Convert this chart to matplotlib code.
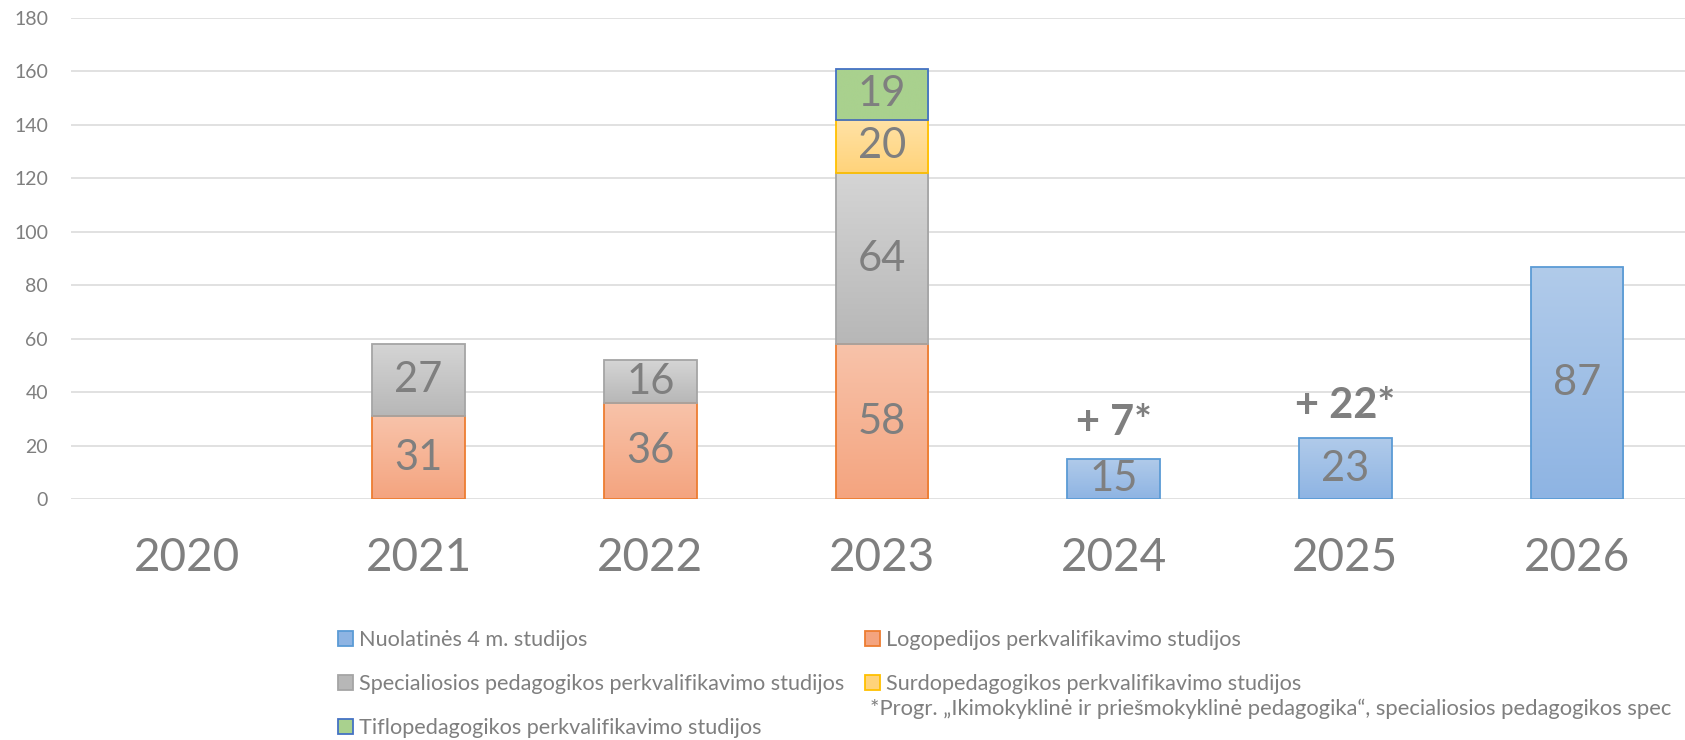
import numpy as np
import matplotlib
matplotlib.use("Agg")
import matplotlib.pyplot as plt
from matplotlib.colors import LinearSegmentedColormap
from matplotlib.patches import Patch

plt.rcParams['font.family'] = ['Lato', 'DejaVu Sans']

# ---- data ----
years = ['2020', '2021', '2022', '2023', '2024', '2025', '2026']
nuolatines = [0, 0, 0, 0, 15, 23, 87]
logopedijos = [0, 31, 36, 58, 0, 0, 0]
specialiosios = [0, 27, 16, 64, 0, 0, 0]
surdo = [0, 0, 0, 20, 0, 0, 0]
tiflo = [0, 0, 0, 19, 0, 0, 0]
extra_labels = ['', '', '', '', '+ 7*', '+ 22*', '']
series_names = ['Nuolatinės 4 m. studijos',
                'Logopedijos perkvalifikavimo studijos',
                'Specialiosios pedagogikos perkvalifikavimo studijos',
                'Surdopedagogikos perkvalifikavimo studijos',
                'Tiflopedagogikos perkvalifikavimo studijos']
footnote = ('*Progr. „Ikimokyklinė ir priešmokyklinė pedagogika“, '
            'specialiosios pedagogikos spec')
yticks = [0, 20, 40, 60, 80, 100, 120, 140, 160, 180]

# ---- styles ----
styles = [  # (top colour, bottom colour, edge colour)
    ('#b1cbea', '#8eb4e3', '#5b9bd5'),
    ('#f8c3aa', '#f4a47f', '#ed7d31'),
    ('#d5d5d5', '#b7b7b7', '#a5a5a5'),
    ('#ffe2a6', '#ffd37a', '#ffc000'),
    ('#a9d18e', '#a9d18e', '#4472c4'),
]
grey = '#7f7f7f'

W, H = 1685, 740
fig = plt.figure(figsize=(W / 100, H / 100), dpi=100)
ax_l, ax_r, ax_b, ax_t = 71, 1693, 499.3, 18
ax = fig.add_axes([ax_l / W, 1 - ax_b / H, (ax_r - ax_l) / W, (ax_b - ax_t) / H])

x = np.arange(len(years))
all_series = [nuolatines, logopedijos, specialiosios, surdo, tiflo]
bottom = np.zeros(len(years))
grad = np.linspace(0, 1, 256).reshape(-1, 1)
for vals, (ctop, cbot, cedge) in zip(all_series, styles):
    vals = np.array(vals, dtype=float)
    bars = ax.bar(x, vals, width=0.40, bottom=bottom, facecolor='none',
                  edgecolor=cedge, linewidth=1.3, zorder=3)
    cmap = LinearSegmentedColormap.from_list('g', [cbot, ctop])
    for b, v in zip(bars, vals):
        if v <= 0:
            b.set_visible(False)
            continue
        x0, y0 = b.get_xy()
        im = ax.imshow(grad, extent=(x0, x0 + b.get_width(), y0, y0 + b.get_height()),
                       origin='lower', cmap=cmap, aspect='auto', zorder=2.5,
                       interpolation='bilinear')
        im.set_clip_path(b)
        ax.text(b.get_x() + b.get_width() / 2, y0 + v / 2, f'{int(v)}',
                ha='center', va='center', fontsize=30, color=grey, zorder=4)
    bottom += vals

totals = bottom
offsets = [0, 0, 0, 0, 17.5, 14, 0]
for i, lab in enumerate(extra_labels):
    if lab:
        ax.annotate(lab, xy=(x[i], totals[i]), xytext=(0, offsets[i]),
                    textcoords='offset points', ha='center', va='baseline',
                    fontsize=30, fontweight='bold', color=grey)

ax.set_xlim(-0.5, len(years) - 0.5)
ax.set_ylim(0, 180)
ax.set_yticks(yticks)
ax.set_xticks(x)
ax.set_xticklabels(years)
ax.tick_params(axis='x', length=0, pad=27, labelsize=33, labelcolor=grey)
ax.tick_params(axis='y', length=0, pad=16.5, labelsize=14, labelcolor=grey)
ax.grid(axis='y', color='#d9d9d9', linewidth=1.1, zorder=0)
ax.set_axisbelow(True)
for s in ax.spines.values():
    s.set_visible(False)

handles = [Patch(facecolor=styles[i][1], edgecolor=styles[i][2], linewidth=1.3)
           for i in range(5)]
order = [0, 2, 4, 1, 3]
leg = fig.legend([handles[i] for i in order], [series_names[i] for i in order],
                 ncol=2, loc='upper left', bbox_to_anchor=(338 / W, 1 - 630 / H),
                 frameon=False, fontsize=15.6, labelcolor=grey,
                 handlelength=0.68, handleheight=0.68, handletextpad=0.3,
                 labelspacing=1.1, columnspacing=0.95, borderpad=0, borderaxespad=0)

fig.text(870 / W, 1 - 709 / H, footnote, fontsize=15.8, color=grey, va='center', ha='left')

fig.savefig('out.png', dpi=100)
